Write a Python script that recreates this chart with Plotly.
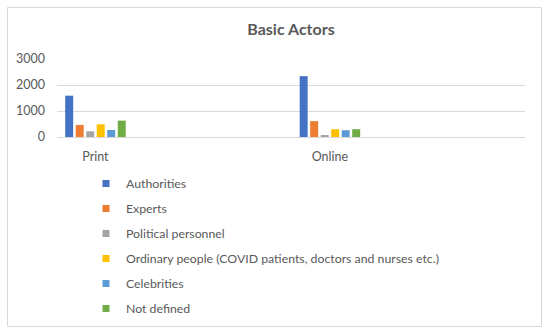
import plotly.graph_objects as go

categories = ["Print", "Online"]
series_names = [
    "Authorities",
    "Experts",
    "Political personnel",
    "Ordinary people (COVID patients, doctors and nurses etc.)",
    "Celebrities",
    "Not defined",
]
authorities = [1590, 2340]
experts = [465, 610]
political = [220, 50]
ordinary = [490, 300]
celebrities = [270, 260]
not_defined = [630, 300]
y_ticks = [0, 1000, 2000, 3000]

values = [authorities, experts, political, ordinary, celebrities, not_defined]
colors = ["#4472C4", "#ED7D31", "#A5A5A5", "#FFC000", "#5B9BD5", "#70AD47"]

FONT = "Lato"
W, H = 550, 336
L, R, T, B = 57, 25, 59, 199
pw, ph = W - L - R, H - T - B

fig = go.Figure()
for i, (name, vals, col) in enumerate(zip(series_names, values, colors)):
    fig.add_trace(go.Bar(x=categories, y=vals, name=name, marker_color=col,
                         marker_line_width=0, showlegend=False))
    fig.add_trace(go.Scatter(x=[None], y=[None], mode="markers", name=name,
                             marker=dict(symbol="square", size=7, color=col),
                             legendgroup=f"g{i}", showlegend=True))

def px_x(p):
    return (p - L) / pw

def px_y(p):
    return (H - B - p) / ph

fig.add_shape(type="rect", xref="paper", yref="paper",
              x0=px_x(7.5), x1=px_x(541.5), y0=px_y(326.5), y1=px_y(7.5),
              line=dict(color="#D9D9D9", width=1), layer="below")

fig.update_layout(
    template="none",
    width=W, height=H,
    margin=dict(l=L, r=R, t=T, b=B, pad=0, autoexpand=False),
    paper_bgcolor="white", plot_bgcolor="white",
    barmode="group", bargap=0.731, bargroupgap=0.24,
    font=dict(family=FONT, color="#595959", size=12),
    title=dict(text="<b>Basic Actors</b>", x=0.5, xref="paper", xanchor="center",
               y=1 - 29 / H, yanchor="middle",
               font=dict(family=FONT, size=16, color="#595959")),
    xaxis=dict(range=[-0.164, 1.832], showgrid=False, showline=True,
               linecolor="#D9D9D9", linewidth=1, ticks="", automargin=False,
               tickfont=dict(size=12.5, color="#595959"), ticklabelstandoff=8),
    yaxis=dict(range=[0, 3000], tickvals=y_ticks, showgrid=True,
               gridcolor="#D9D9D9", gridwidth=1, zeroline=False, showline=False,
               ticks="", tickfont=dict(size=12.5, color="#595959"),
               ticklabelstandoff=11, automargin=False),
    legend=dict(x=px_x(86), xanchor="left", y=px_y(169), yanchor="top",
                tracegroupgap=6, font=dict(size=12.3, color="#595959"),
                bgcolor="rgba(0,0,0,0)", traceorder="grouped", borderwidth=0),
)

fig.write_html("out.html",
               config={"displayModeBar": False},
               post_script="document.body.style.margin='0px';document.body.style.padding='0px';")
